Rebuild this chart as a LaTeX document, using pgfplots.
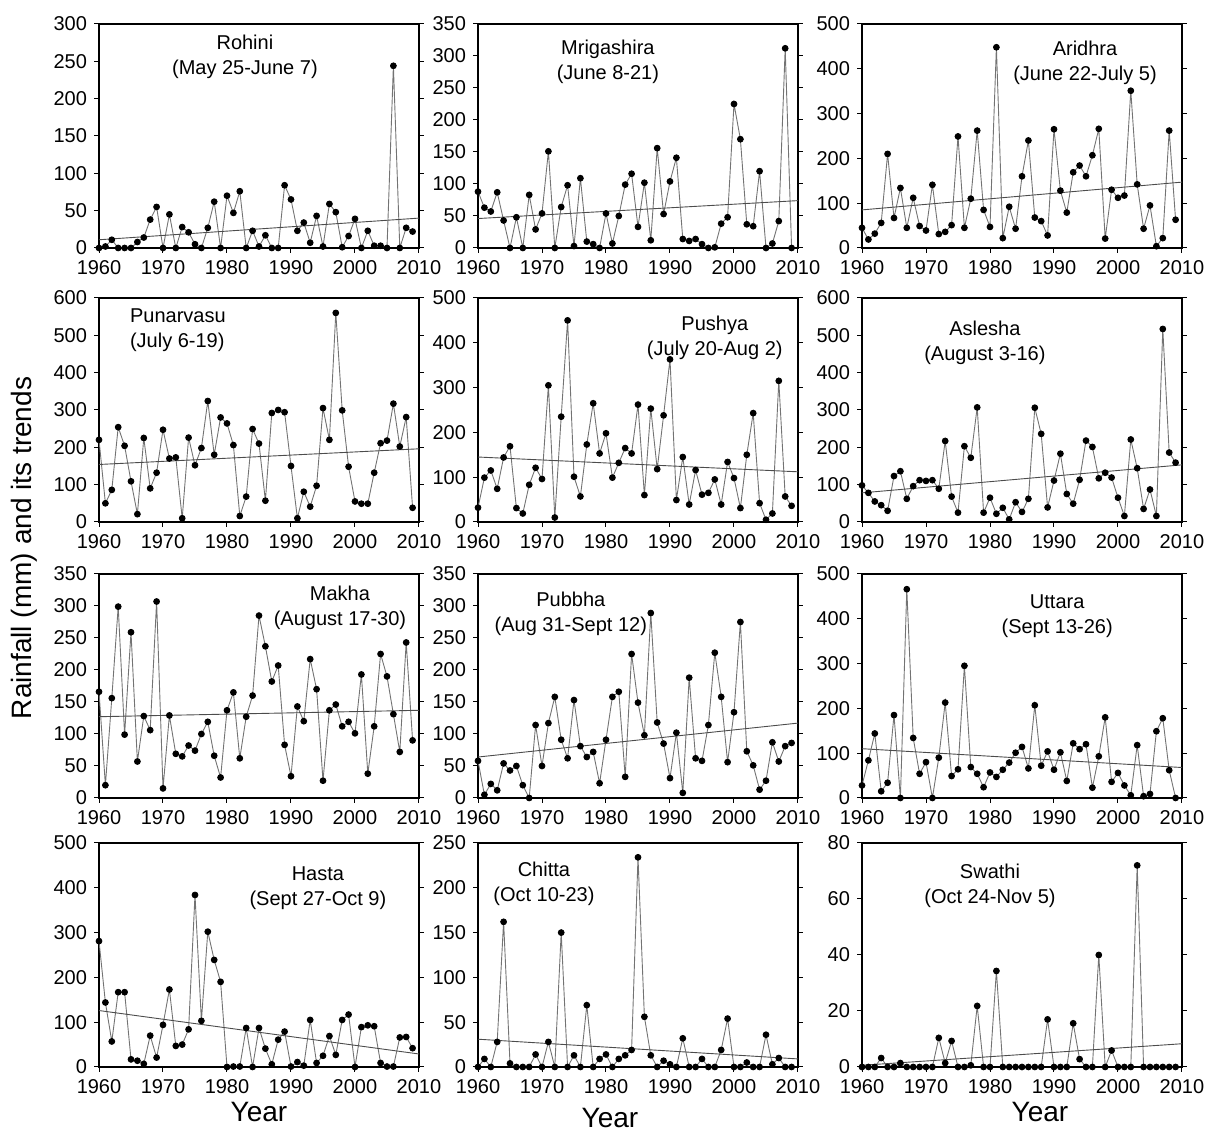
\documentclass[border=0pt]{standalone}
\usepackage{fontspec}
\setmainfont{Liberation Sans}
\usepackage{pgfplots}
\pgfplotsset{compat=1.18}

\pgfplotsset{
  panel/.style={
    scale only axis, width=160pt, height=112pt,
    anchor=south west, clip=false,
    xmin=1960, xmax=2010, ymin=0,
    xtick={1960,1970,...,2010},
    x tick label style={/pgf/number format/1000 sep={}},
    /pgf/number format/assume math mode=true,
    tick label style={font=\fontsize{10}{11}\selectfont},
    tick align=outside, xtick pos=bottom, ytick pos=both, yticklabel pos=left,
    major tick length=2.5pt,
    axis line style={line width=0.8pt},
    every tick/.style={black, line width=0.5pt},
    xlabel style={font=\fontsize{14}{16}\selectfont, yshift=2.5pt},
  },
  rain/.style={black!55, line width=0.45pt, mark=*, mark size=1.45pt,
    mark options={fill=black, draw=black}},
  trend/.style={black!70, line width=0.45pt, no marks},
}
\newcommand{\ttl}[3]{\node[font=\fontsize{10}{12.5}\selectfont, align=center] at (axis description cs:#1,#2) {#3};}

\begin{document}
\begin{tikzpicture}
\path[use as bounding box] (0,0) rectangle (603.5pt,566.5pt);

% ---- row 1 ----
\begin{axis}[panel, at={(49.5pt,442.5pt)}, ymax=300, ytick={0,50,...,300}]
\addplot[rain] coordinates {(1960,0)(1961,2)(1962,11)(1963,0)(1964,0)(1965,0)(1966,8)(1967,14)(1968,38)(1969,55)(1970,0)(1971,45)(1972,0)(1973,28)(1974,21)(1975,5)(1976,0)(1977,27)(1978,62)(1979,0)(1980,70)(1981,47)(1982,76)(1983,0)(1984,23)(1985,2)(1986,17)(1987,0)(1988,0)(1989,84)(1990,65)(1991,23)(1992,34)(1993,7)(1994,43)(1995,2)(1996,59)(1997,48)(1998,1)(1999,16)(2000,39)(2001,0)(2002,23)(2003,3)(2004,3)(2005,0)(2006,244)(2007,0)(2008,27)(2009,22)};
\addplot[trend] coordinates {(1960,11)(2010,40)};
\ttl{0.456}{0.853}{Rohini\\(May 25-June 7)}
\end{axis}

\begin{axis}[panel, at={(239pt,442.5pt)}, ymax=350, ytick={0,50,...,350}]
\addplot[rain] coordinates {(1960,88)(1961,63)(1962,57)(1963,87)(1964,43)(1965,0)(1966,48)(1967,0)(1968,83)(1969,29)(1970,54)(1971,151)(1972,0)(1973,64)(1974,98)(1975,3)(1976,109)(1977,10)(1978,6)(1979,0)(1980,54)(1981,7)(1982,50)(1983,99)(1984,116)(1985,33)(1986,102)(1987,12)(1988,156)(1989,53)(1990,104)(1991,141)(1992,14)(1993,11)(1994,14)(1995,6)(1996,0)(1997,1)(1998,38)(1999,48)(2000,225)(2001,170)(2002,37)(2003,34)(2004,120)(2005,0)(2006,7)(2007,42)(2008,312)(2009,0)};
\addplot[trend] coordinates {(1960,46)(2010,74)};
\ttl{0.406}{0.83}{Mrigashira\\(June 8-21)}
\end{axis}

\begin{axis}[panel, at={(431pt,442.5pt)}, ymax=500, ytick={0,100,...,500}]
\addplot[rain] coordinates {(1960,45)(1961,19)(1962,32)(1963,56)(1964,210)(1965,67)(1966,134)(1967,45)(1968,112)(1969,49)(1970,39)(1971,141)(1972,31)(1973,36)(1974,51)(1975,249)(1976,45)(1977,110)(1978,262)(1979,85)(1980,47)(1981,448)(1982,22)(1983,92)(1984,43)(1985,160)(1986,240)(1987,68)(1988,60)(1989,28)(1990,265)(1991,128)(1992,79)(1993,169)(1994,184)(1995,160)(1996,207)(1997,266)(1998,21)(1999,130)(2000,112)(2001,117)(2002,351)(2003,142)(2004,43)(2005,95)(2006,4)(2007,22)(2008,262)(2009,63)};
\addplot[trend] coordinates {(1960,85)(2010,147)};
\ttl{0.697}{0.826}{Aridhra\\(June 22-July 5)}
\end{axis}

% ---- row 2 ----
\begin{axis}[panel, at={(49.5pt,305.5pt)}, ymax=600, ytick={0,100,...,600}]
\addplot[rain] coordinates {(1960,220)(1961,50)(1962,86)(1963,254)(1964,204)(1965,109)(1966,21)(1967,225)(1968,90)(1969,132)(1970,247)(1971,170)(1972,173)(1973,10)(1974,226)(1975,152)(1976,198)(1977,324)(1978,180)(1979,280)(1980,264)(1981,206)(1982,16)(1983,68)(1984,249)(1985,210)(1986,57)(1987,292)(1988,300)(1989,294)(1990,150)(1991,10)(1992,81)(1993,41)(1994,97)(1995,305)(1996,220)(1997,560)(1998,299)(1999,148)(2000,55)(2001,49)(2002,49)(2003,132)(2004,211)(2005,218)(2006,317)(2007,202)(2008,281)(2009,38)};
\addplot[trend] coordinates {(1960,154)(2010,196)};
\node[font=\fontsize{10}{12.5}\selectfont, align=left, anchor=west] at (axis description cs:0.075,0.857) {Punarvasu\\(July 6-19)};
\end{axis}

\begin{axis}[panel, at={(239pt,305.5pt)}, ymax=500, ytick={0,100,...,500}]
\addplot[rain] coordinates {(1960,32)(1961,99)(1962,115)(1963,74)(1964,144)(1965,169)(1966,31)(1967,19)(1968,83)(1969,121)(1970,96)(1971,305)(1972,10)(1973,235)(1974,450)(1975,101)(1976,57)(1977,173)(1978,265)(1979,153)(1980,198)(1981,99)(1982,132)(1983,165)(1984,153)(1985,262)(1986,60)(1987,253)(1988,118)(1989,238)(1990,363)(1991,49)(1992,145)(1993,39)(1994,116)(1995,61)(1996,65)(1997,95)(1998,39)(1999,134)(2000,98)(2001,31)(2002,150)(2003,243)(2004,42)(2005,5)(2006,19)(2007,315)(2008,57)(2009,36)};
\addplot[trend] coordinates {(1960,145)(2010,112)};
\ttl{0.74}{0.82}{Pushya\\(July 20-Aug 2)}
\end{axis}

\begin{axis}[panel, at={(431pt,305.5pt)}, ymax=600, ytick={0,100,...,600}]
\addplot[rain] coordinates {(1960,98)(1961,78)(1962,55)(1963,45)(1964,30)(1965,123)(1966,136)(1967,62)(1968,96)(1969,112)(1970,110)(1971,112)(1972,89)(1973,217)(1974,68)(1975,25)(1976,203)(1977,172)(1978,307)(1979,25)(1980,65)(1981,22)(1982,38)(1983,7)(1984,53)(1985,27)(1986,62)(1987,306)(1988,236)(1989,39)(1990,111)(1991,183)(1992,75)(1993,49)(1994,113)(1995,218)(1996,201)(1997,117)(1998,132)(1999,119)(2000,65)(2001,16)(2002,221)(2003,144)(2004,35)(2005,87)(2006,16)(2007,517)(2008,186)(2009,159)};
\addplot[trend] coordinates {(1960,78)(2010,153)};
\ttl{0.384}{0.80}{Aslesha\\(August 3-16)}
\end{axis}

% ---- row 3 ----
\begin{axis}[panel, at={(49.5pt,167.5pt)}, ymax=350, ytick={0,50,...,350}]
\addplot[rain] coordinates {(1960,166)(1961,20)(1962,156)(1963,299)(1964,99)(1965,259)(1966,57)(1967,128)(1968,106)(1969,307)(1970,15)(1971,129)(1972,69)(1973,65)(1974,82)(1975,74)(1976,100)(1977,119)(1978,66)(1979,32)(1980,137)(1981,165)(1982,62)(1983,127)(1984,160)(1985,285)(1986,237)(1987,182)(1988,207)(1989,83)(1990,34)(1991,143)(1992,120)(1993,217)(1994,170)(1995,27)(1996,137)(1997,146)(1998,112)(1999,119)(2000,101)(2001,193)(2002,38)(2003,112)(2004,225)(2005,190)(2006,131)(2007,72)(2008,243)(2009,90)};
\addplot[trend] coordinates {(1960,127)(2010,137)};
\ttl{0.753}{0.848}{Makha\\(August 17-30)}
\end{axis}

\begin{axis}[panel, at={(239pt,167.5pt)}, ymax=350, ytick={0,50,...,350}]
\addplot[rain] coordinates {(1960,58)(1961,5)(1962,22)(1963,12)(1964,54)(1965,43)(1966,50)(1967,20)(1968,0)(1969,114)(1970,50)(1971,117)(1972,158)(1973,91)(1974,62)(1975,153)(1976,81)(1977,64)(1978,72)(1979,23)(1980,91)(1981,158)(1982,166)(1983,33)(1984,225)(1985,149)(1986,98)(1987,289)(1988,118)(1989,85)(1990,31)(1991,102)(1992,8)(1993,188)(1994,62)(1995,58)(1996,114)(1997,227)(1998,158)(1999,56)(2000,134)(2001,275)(2002,73)(2003,51)(2004,13)(2005,27)(2006,87)(2007,57)(2008,81)(2009,86)};
\addplot[trend] coordinates {(1960,64)(2010,117)};
\ttl{0.29}{0.82}{Pubbha\\(Aug 31-Sept 12)}
\end{axis}

\begin{axis}[panel, at={(431pt,167.5pt)}, ymax=500, ytick={0,100,...,500}]
\addplot[rain] coordinates {(1960,28)(1961,84)(1962,144)(1963,15)(1964,34)(1965,185)(1966,0)(1967,466)(1968,134)(1969,54)(1970,80)(1971,0)(1972,90)(1973,213)(1974,49)(1975,64)(1976,295)(1977,69)(1978,54)(1979,24)(1980,57)(1981,47)(1982,63)(1983,79)(1984,101)(1985,114)(1986,66)(1987,207)(1988,72)(1989,104)(1990,63)(1991,102)(1992,38)(1993,122)(1994,109)(1995,120)(1996,23)(1997,93)(1998,180)(1999,36)(2000,56)(2001,28)(2002,6)(2003,118)(2004,4)(2005,9)(2006,149)(2007,178)(2008,62)(2009,0)};
\addplot[trend] coordinates {(1960,110)(2010,68)};
\ttl{0.61}{0.81}{Uttara\\(Sept 13-26)}
\end{axis}

% ---- row 4 ----
\begin{axis}[panel, at={(49.5pt,33pt)}, ymax=500, ytick={0,100,...,500}, xlabel={Year}]
\addplot[rain] coordinates {(1960,281)(1961,144)(1962,57)(1963,167)(1964,167)(1965,17)(1966,14)(1967,7)(1968,70)(1969,21)(1970,94)(1971,173)(1972,47)(1973,50)(1974,84)(1975,384)(1976,103)(1977,302)(1978,239)(1979,190)(1980,0)(1981,1)(1982,1)(1983,87)(1984,0)(1985,87)(1986,41)(1987,6)(1988,61)(1989,79)(1990,1)(1991,11)(1992,3)(1993,105)(1994,9)(1995,25)(1996,69)(1997,27)(1998,105)(1999,117)(2000,0)(2001,89)(2002,93)(2003,91)(2004,9)(2005,1)(2006,1)(2007,66)(2008,67)(2009,42)};
\addplot[trend] coordinates {(1960,126)(2010,29)};
\ttl{0.684}{0.80}{Hasta\\(Sept 27-Oct 9)}
\end{axis}

\begin{axis}[panel, at={(239pt,33pt)}, ymax=250, ytick={0,50,...,250}, xlabel={Year}, xlabel style={xshift=-14pt, yshift=-3pt}]
\addplot[rain] coordinates {(1960,0)(1961,9)(1962,0)(1963,28)(1964,162)(1965,4)(1966,0)(1967,0)(1968,0)(1969,14)(1970,0)(1971,28)(1972,0)(1973,150)(1974,0)(1975,13)(1976,0)(1977,69)(1978,0)(1979,9)(1980,14)(1981,0)(1982,9)(1983,13)(1984,19)(1985,234)(1986,56)(1987,13)(1988,0)(1989,7)(1990,3)(1991,0)(1992,32)(1993,0)(1994,0)(1995,9)(1996,0)(1997,0)(1998,19)(1999,54)(2000,0)(2001,0)(2002,5)(2003,0)(2004,0)(2005,36)(2006,3)(2007,10)(2008,0)(2009,0)};
\addplot[trend] coordinates {(1960,31)(2010,9)};
\ttl{0.206}{0.817}{Chitta\\(Oct 10-23)}
\end{axis}

\begin{axis}[panel, at={(431pt,33pt)}, ymax=80, ytick={0,20,...,80}, xlabel={Year}, xlabel style={xshift=9pt}]
\addplot[rain] coordinates {(1960,0)(1961,0)(1962,0)(1963,3.2)(1964,0)(1965,0)(1966,1.4)(1967,0)(1968,0)(1969,0)(1970,0)(1971,0)(1972,10.4)(1973,1.4)(1974,9.3)(1975,0)(1976,0)(1977,0.6)(1978,21.8)(1979,0)(1980,0)(1981,34.3)(1982,0)(1983,0)(1984,0)(1985,0)(1986,0)(1987,0)(1988,0)(1989,17)(1990,0)(1991,0)(1992,0)(1993,15.6)(1994,2.8)(1995,0)(1996,0)(1997,40)(1998,0)(1999,5.9)(2000,0)(2001,0)(2002,0)(2003,72)(2004,0)(2005,0)(2006,0)(2007,0)(2008,0)(2009,0)};
\addplot[trend] coordinates {(1960,0.6)(2010,8.3)};
\ttl{0.40}{0.81}{Swathi\\(Oct 24-Nov 5)}
\end{axis}

\node[rotate=90, font=\fontsize{14}{16}\selectfont] at (12pt,292.5pt) {Rainfall (mm) and its trends};
\end{tikzpicture}
\end{document}
